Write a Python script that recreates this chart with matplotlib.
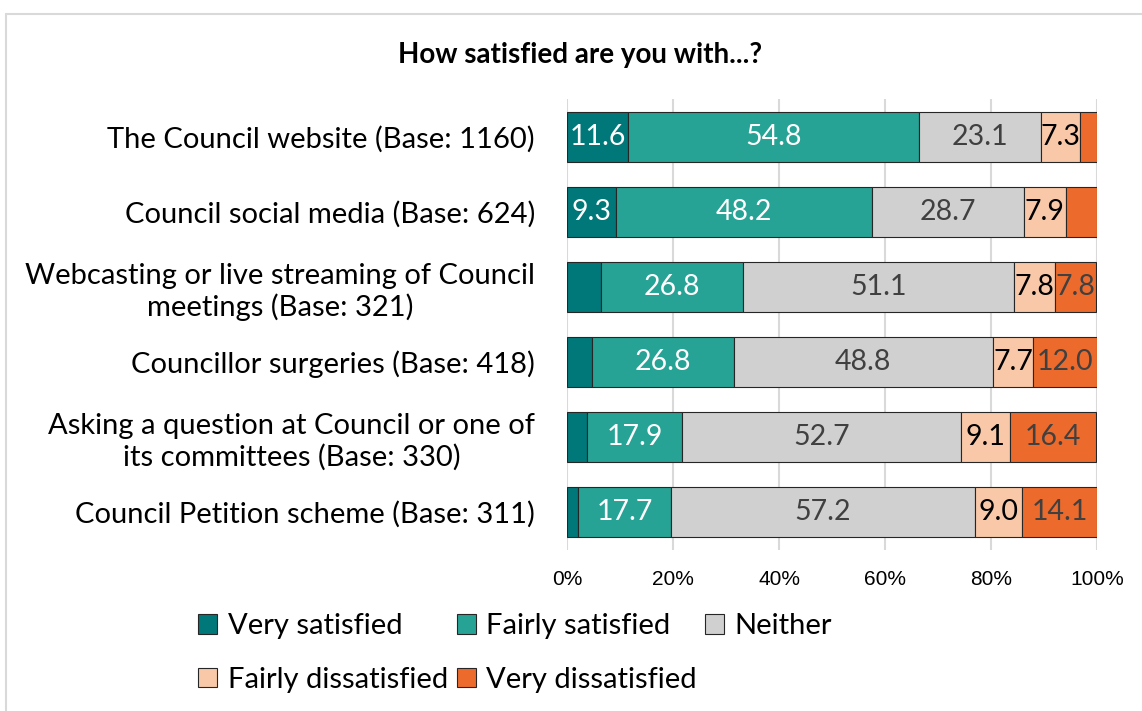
import matplotlib
matplotlib.use("Agg")
import matplotlib.pyplot as plt
import numpy as np
from matplotlib.patches import Rectangle

plt.rcParams["font.family"] = ["Lato", "DejaVu Sans"]

# Datos
categorias = ["The Council website (Base: 1160)",
              "Council social media (Base: 624)",
              "Webcasting or live streaming of Council\nmeetings (Base: 321)",
              "Councillor surgeries (Base: 418)",
              "Asking a question at Council or one of\nits committees (Base: 330)",
              "Council Petition scheme (Base: 311)"]
series = ["Very satisfied", "Fairly satisfied", "Neither",
          "Fairly dissatisfied", "Very dissatisfied"]
muy_satisfecho = [11.6, 9.3, 6.4, 4.7, 3.8, 2.0]
satisfecho = [54.8, 48.2, 26.8, 26.8, 17.9, 17.7]
ninguno = [23.1, 28.7, 51.1, 48.8, 52.7, 57.2]
insatisfecho = [7.3, 7.9, 7.8, 7.7, 9.1, 9.0]
muy_insatisfecho = [3.2, 5.9, 7.8, 12.0, 16.4, 14.1]
ticks = [0, 20, 40, 60, 80, 100]

valores = [muy_satisfecho, satisfecho, ninguno, insatisfecho, muy_insatisfecho]
colores = ["#00787A", "#27A396", "#D0D0D0", "#F9C8A9", "#EC6B2C"]
color_texto = ["white", "white", "#404040", "black", "#404040"]

fig = plt.figure(figsize=(11.42, 7.11), dpi=100)
ax = fig.add_axes([0.4965, 0.2271, 0.4641, 0.633])

# marco gris del grafico
fig.patches.append(Rectangle((0.005, -0.02), 1.2, 1.0, transform=fig.transFigure,
                             fill=False, edgecolor="#D9D9D9", linewidth=1.5))

y = np.arange(len(categorias))
izq = np.zeros(len(categorias))
barras = []
for i in range(len(series)):
    b = ax.barh(y, valores[i], left=izq, height=0.67, color=colores[i],
                edgecolor="#262626", linewidth=0.8, label=series[i], zorder=3)
    barras.append(b)
    for j in range(len(categorias)):
        v = valores[i][j]
        if v >= 7:
            ax.text(izq[j] + v / 2, y[j], f"{v:.1f}", ha="center", va="center",
                    fontsize=20.5, color=color_texto[i], zorder=4)
    izq = izq + np.array(valores[i])

ax.set_xlim(0, 100)
ax.set_ylim(len(categorias) - 0.5, -0.5)
ax.set_xticks(ticks)
ax.set_xticklabels([f"{t}%" for t in ticks], fontsize=15, family="Liberation Sans")
ax.set_yticks(y)
ax.set_yticklabels(categorias, fontsize=21)
for t in ax.get_yticklabels():
    t.set_multialignment("center")
ax.tick_params(axis="both", length=0)
ax.tick_params(axis="y", pad=23)
ax.tick_params(axis="x", pad=15)
ax.grid(axis="x", color="#D9D9D9", linewidth=1.5, zorder=0)
for s in ax.spines.values():
    s.set_visible(False)

fig.text(0.508, 0.922, "How satisfied are you with...?", ha="center", va="center",
         fontsize=20, fontweight="bold")

# leyenda por columnas para que quede como en Excel
orden = [0, 3, 1, 4, 2]
ax.legend([barras[k] for k in orden], [series[k] for k in orden],
          loc="upper left", bbox_to_anchor=(0.161, 0.158), bbox_transform=fig.transFigure,
          ncol=3, frameon=False, fontsize=21, handlelength=0.65, handleheight=0.65,
          handletextpad=0.35, columnspacing=0.3, labelspacing=0.95, borderpad=0)

plt.savefig("out.png", dpi=100)
